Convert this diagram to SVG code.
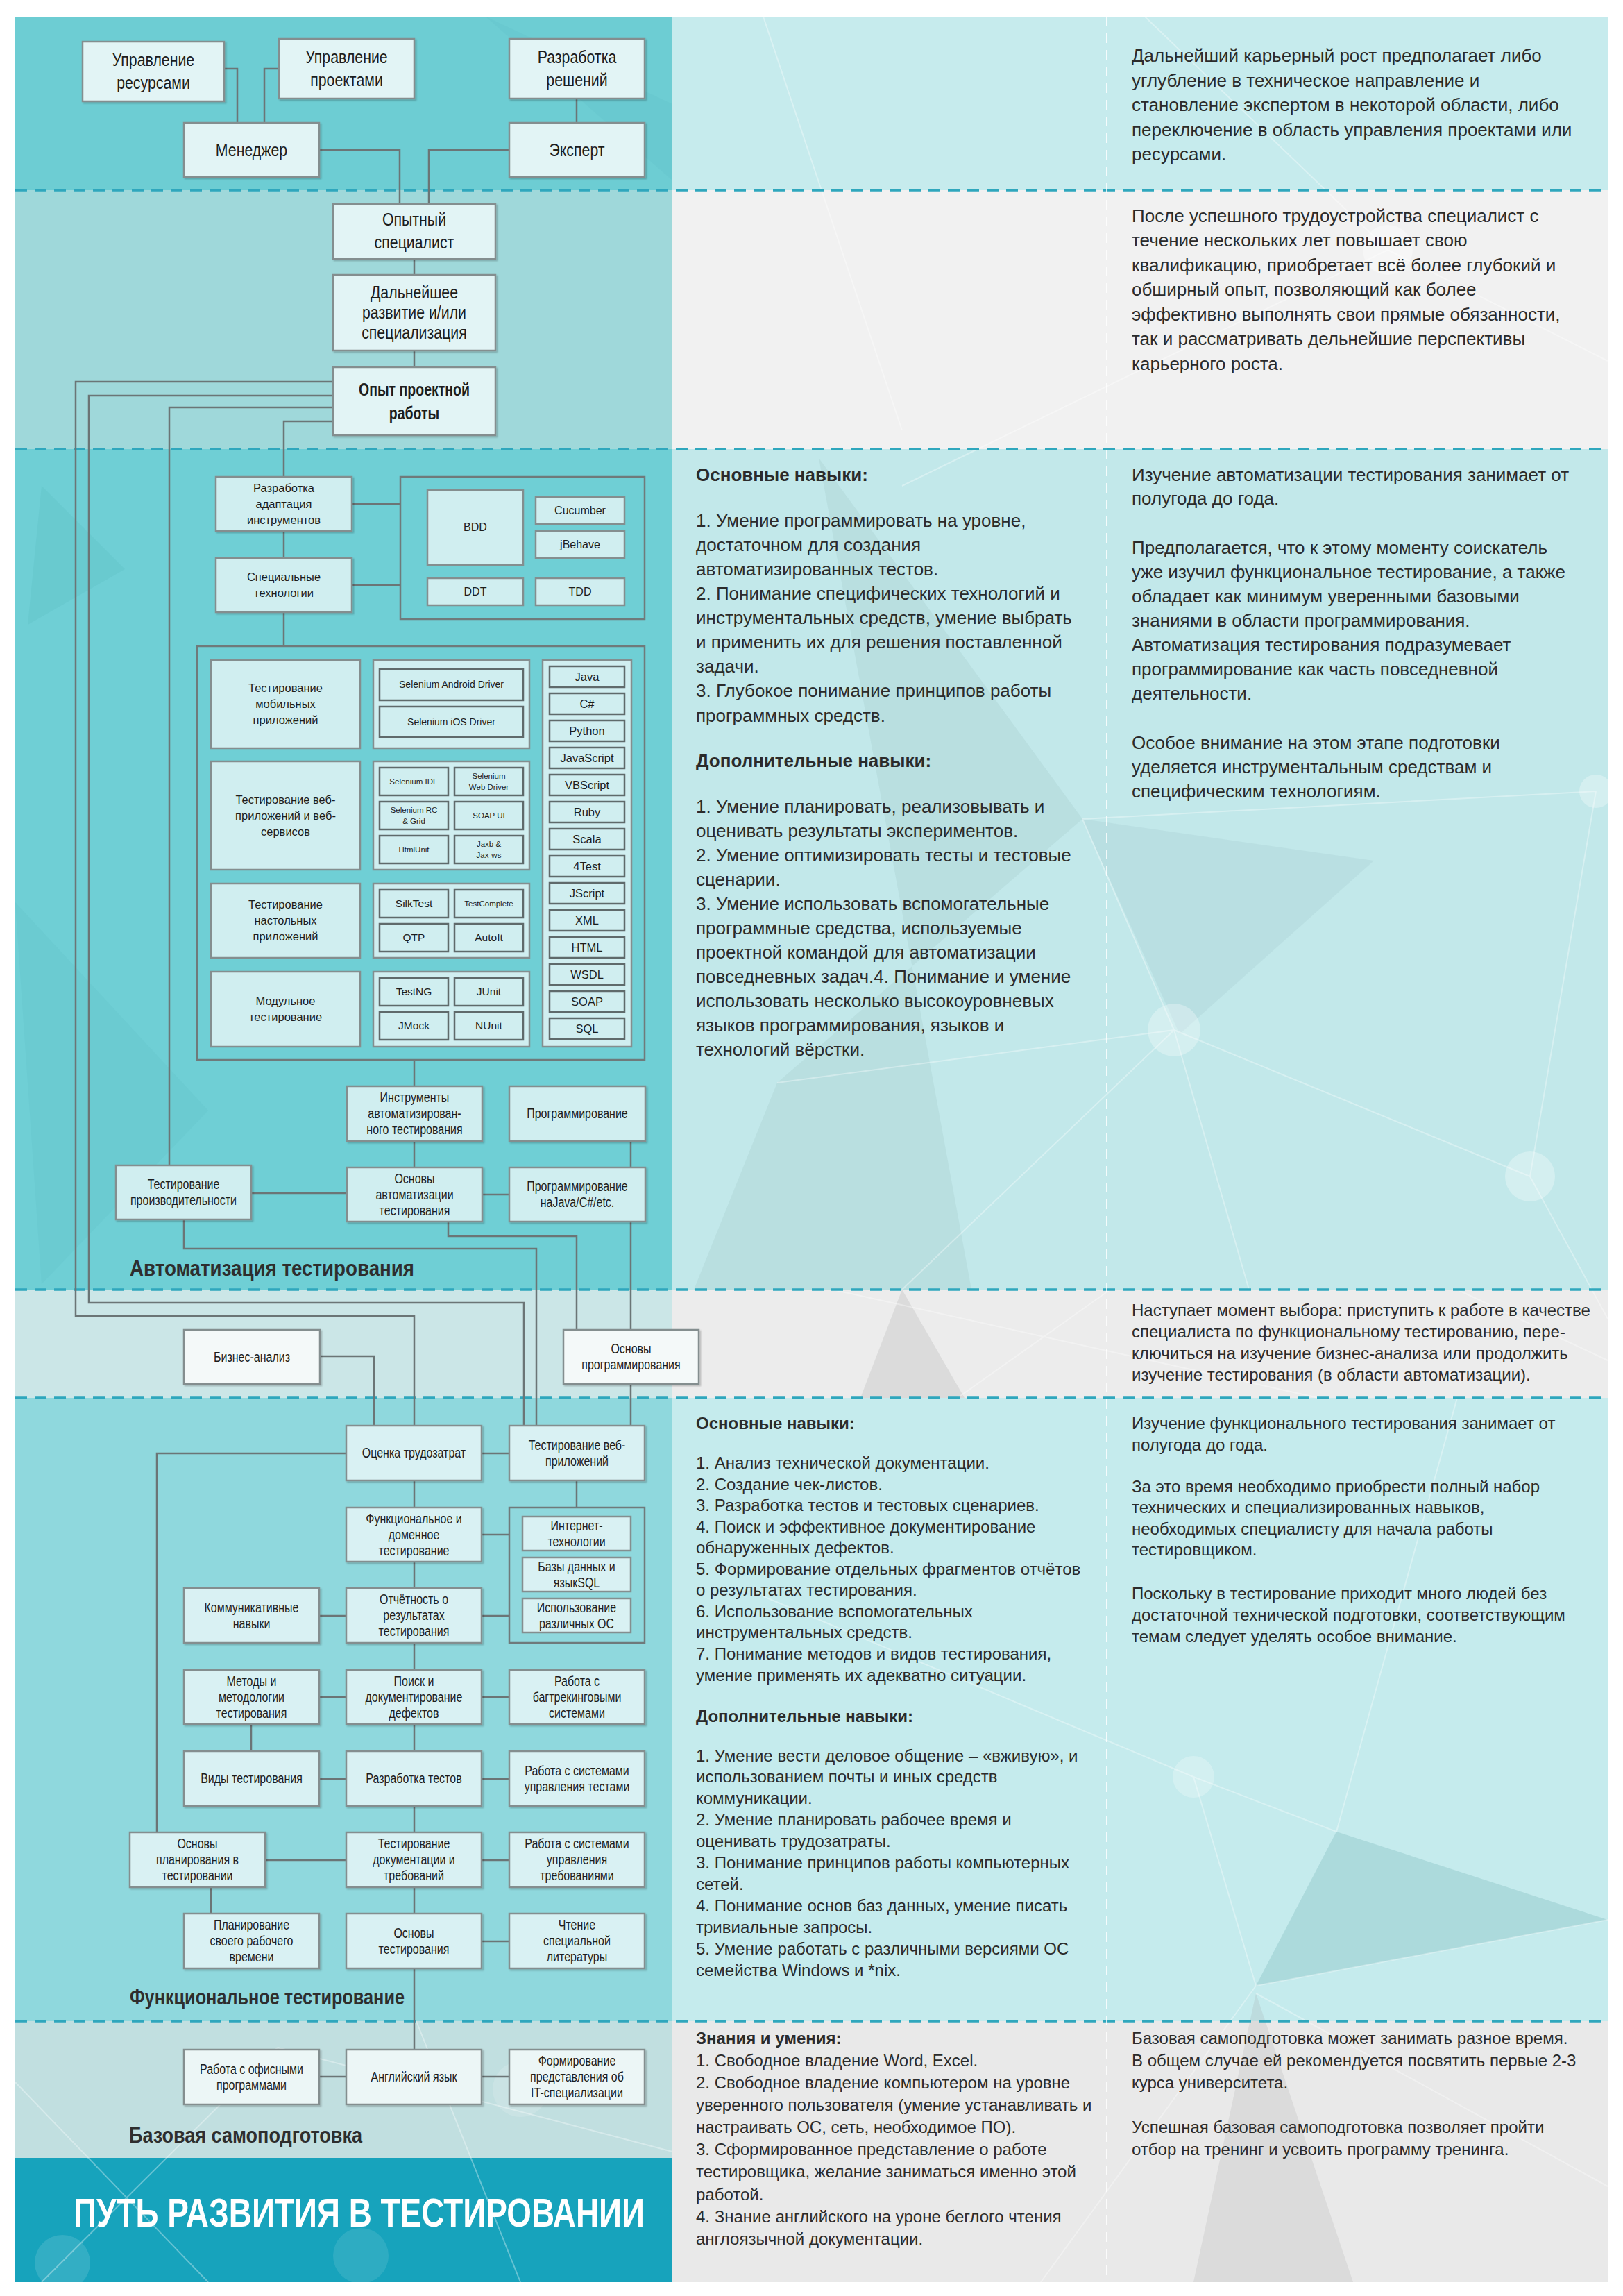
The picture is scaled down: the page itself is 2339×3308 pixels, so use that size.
<svg xmlns="http://www.w3.org/2000/svg" width="2339" height="3308" viewBox="0 0 2339 3308">
<defs>
<style>
.nb{stroke:#848e8f;stroke-width:2.5}
.ib{stroke:#5f6a6b;stroke-width:2.5}
.gb{fill:none;stroke:#6f7a7b;stroke-width:2.5}
.f1{fill:#e2f4f5}
.f2{fill:#d0eef0}
.f3{fill:#f4f9f9}
.f4{fill:#d9f1f3}
.f5{fill:#ecf6f6}
.conn path{fill:none;stroke:#6b7576;stroke-width:2.5}
.dash{stroke:#2fa7bd;stroke-width:3.5;stroke-dasharray:17 11;fill:none}
.vdash{stroke:#ffffff;stroke-width:2;stroke-dasharray:14 10;fill:none;opacity:.8}
.tn{font-family:"Liberation Sans",Arial,sans-serif;text-anchor:middle;fill:#1d1d1d}
.tr{font-family:"Liberation Sans",Arial,sans-serif;text-anchor:middle;fill:#1d1d1d}
.body{font-family:"Liberation Sans",Arial,sans-serif;fill:#2b2b2b}
.b{font-weight:bold}
.head{font-family:"Liberation Sans",Arial,sans-serif;font-weight:bold;fill:#2e2e2e}
.pl{fill:none;stroke:#ffffff;stroke-width:2;opacity:.35}
</style>
<filter id="sh" x="-5%" y="-5%" width="115%" height="115%">
<feDropShadow dx="2" dy="2" stdDeviation="1.2" flood-color="#000" flood-opacity="0.22"/>
</filter>
</defs>
<rect x="0" y="0" width="2339" height="3308" fill="#ffffff"/>
<g id="sections">
<rect x="22" y="24" width="947" height="250" fill="#6dcdd3"/>
<rect x="969" y="24" width="1348" height="250" fill="#c6ebed"/>
<rect x="22" y="274" width="947" height="373" fill="#9fd8da"/>
<rect x="969" y="274" width="1348" height="373" fill="#f1f1f1"/>
<rect x="22" y="647" width="947" height="1211" fill="#6fcfd5"/>
<rect x="969" y="647" width="1348" height="1211" fill="#c2e8ea"/>
<rect x="22" y="1858" width="947" height="156" fill="#cbe6e7"/>
<rect x="969" y="1858" width="1348" height="156" fill="#ececec"/>
<rect x="22" y="2014" width="947" height="898" fill="#8fd8dd"/>
<rect x="969" y="2014" width="1348" height="898" fill="#c5ebed"/>
<rect x="22" y="2912" width="947" height="197" fill="#c1dfe0"/>
<rect x="969" y="2912" width="1348" height="376" fill="#e9e9e9"/>
<rect x="22" y="3109" width="947" height="179" fill="#17a3bc"/>
</g>
<g id="background-pattern">
<polygon points="1180,660 1560,1180 1120,1560 1000,1858 1400,1858" fill="#8fb5b8" opacity="0.18"/>
<polygon points="1560,1180 1980,1240 1700,1490" fill="#8fb5b8" opacity="0.16"/>
<polygon points="1926,2639 2317,2766 1810,2861" fill="#7fb9bc" opacity="0.35"/>
<polygon points="1810,2872 1720,3288 1950,3288" fill="#9a9a9a" opacity="0.18"/>
<polygon points="1300,1858 1390,2014 1240,2014" fill="#9a9a9a" opacity="0.2"/>
<polygon points="60,700 180,820 40,900" fill="#5fbfc6" opacity="0.35"/>
<polygon points="22,1300 300,1600 60,1850" fill="#5fbfc6" opacity="0.25"/>
<polygon points="700,24 969,150 969,260" fill="#5fbfc6" opacity="0.25"/>
<circle cx="1692" cy="1484" r="38" fill="#ffffff" opacity="0.3"/>
<circle cx="2205" cy="1695" r="36" fill="#ffffff" opacity="0.3"/>
<circle cx="2300" cy="1140" r="24" fill="#ffffff" opacity="0.3"/>
<circle cx="1720" cy="2560" r="30" fill="#ffffff" opacity="0.25"/>
<circle cx="750" cy="3010" r="40" fill="#ffffff" opacity="0.15"/>
<circle cx="90" cy="3260" r="40" fill="#ffffff" opacity="0.12"/>
<circle cx="520" cy="3250" r="40" fill="#ffffff" opacity="0.1"/>
<circle cx="2000" cy="360" r="36" fill="#ffffff" opacity="0.35"/>
<path class="pl" d="M1692,1484 L1120,1560 M1692,1484 L2205,1695 M1692,1484 L1560,1180 M1692,1484 L1800,1858 M2205,1695 L2300,1140 M2205,1695 L2317,1900 M1560,1180 L2300,1140 M1300,1858 L1692,1484"/>
<path class="pl" d="M1720,2560 L1926,2639 M1720,2560 L1100,2300 M1720,2560 L1810,2861 M1810,2861 L2317,2766 M1810,2861 L1500,3288 M1810,2872 L2317,3150 M1926,2639 L2100,2014"/>
<path class="pl" d="M2000,360 L1300,700 M2000,360 L2317,520 M2000,360 L1650,24 M1100,24 L1300,620"/>
<path class="pl" d="M1200,1858 L1900,2014 M1600,1858 L1380,2014 M2100,1858 L2317,1960"/>
<path class="pl" d="M60,3288 L400,2950 M400,2950 L969,3100 M22,3000 L300,3288 M600,2912 L750,3288"/>
</g>
<g id="dividers">
<path class="dash" d="M22,274 H2317 M22,647 H2317 M22,1858 H2317 M22,2014 H2317 M22,2912 H2317"/>
<path class="vdash" d="M1595,24 V3288"/>
</g>
<g class="conn" id="connectors">
<path d="M323,99 H342 V177"/>
<path d="M402,99 H381 V177"/>
<path d="M831,142 V177"/>
<path d="M460,216 H576 V294"/>
<path d="M734,216 H618 V294"/>
<path d="M597,373 V396"/>
<path d="M597,505 V529"/>
<path d="M480,550 H109 V1896 H597 V2054"/>
<path d="M480,570 H128 V1877 H755 V2054"/>
<path d="M480,587 H244 V1679"/>
<path d="M480,607 H409 V687"/>
<path d="M507,726 H577"/>
<path d="M507,843 H577"/>
<path d="M409,765 V804"/>
<path d="M409,882 V931"/>
<path d="M597,1527 V1565"/>
<path d="M597,1644 V1682"/>
<path d="M362,1719 H500"/>
<path d="M695,1721 H734"/>
<path d="M909,1644 V1682"/>
<path d="M909,1760 V1916"/>
<path d="M646,1760 V1781 H831 V1916"/>
<path d="M265,1757 V1799 H773 V2054"/>
<path d="M461,1954 H539 V2054"/>
<path d="M909,1994 V2054"/>
<path d="M694,2094 H734"/>
<path d="M499,2094 H226 V2640"/>
<path d="M597,2133 V2172"/>
<path d="M831,2133 V2172"/>
<path d="M694,2211 H734"/>
<path d="M694,2328 H734"/>
<path d="M597,2250 V2288"/>
<path d="M460,2328 H499"/>
<path d="M597,2367 V2406"/>
<path d="M460,2445 H499"/>
<path d="M694,2445 H734"/>
<path d="M362,2484 V2523"/>
<path d="M597,2484 V2523"/>
<path d="M460,2563 H499"/>
<path d="M694,2563 H734"/>
<path d="M597,2602 V2640"/>
<path d="M382,2680 H499"/>
<path d="M694,2680 H734"/>
<path d="M304,2719 V2757"/>
<path d="M597,2719 V2757"/>
<path d="M694,2797 H734"/>
<path d="M597,2836 V2953"/>
<path d="M460,2992 H499"/>
<path d="M694,2992 H734"/>
</g>
<g id="nodes">
<g id="n-upr-res"><rect class="nb f1" filter="url(#sh)" x="119" y="60" width="204" height="86"/><text class="tn" font-size="26" transform="matrix(0.82 0 0 1 39.78 0)"><tspan x="221" y="95">Управление</tspan><tspan x="221" y="128">ресурсами</tspan></text></g>
<g id="n-upr-proj"><rect class="nb f1" filter="url(#sh)" x="402" y="56" width="195" height="86"/><text class="tn" font-size="26" transform="matrix(0.82 0 0 1 89.91 0)"><tspan x="499.5" y="91">Управление</tspan><tspan x="499.5" y="124">проектами</tspan></text></g>
<g id="n-razr-resh"><rect class="nb f1" filter="url(#sh)" x="734" y="56" width="195" height="86"/><text class="tn" font-size="26" transform="matrix(0.82 0 0 1 149.67 0)"><tspan x="831.5" y="91">Разработка</tspan><tspan x="831.5" y="124">решений</tspan></text></g>
<g id="n-manager"><rect class="nb f1" filter="url(#sh)" x="265" y="177" width="195" height="78"/><text class="tn" font-size="26" transform="matrix(0.82 0 0 1 65.25 0)" x="362.5" y="225">Менеджер</text></g>
<g id="n-expert"><rect class="nb f1" filter="url(#sh)" x="734" y="177" width="195" height="78"/><text class="tn" font-size="26" transform="matrix(0.82 0 0 1 149.67 0)" x="831.5" y="225">Эксперт</text></g>
<g id="n-opyt-spec"><rect class="nb f1" filter="url(#sh)" x="480" y="294" width="234" height="79"/><text class="tn" font-size="26" transform="matrix(0.82 0 0 1 107.46 0)"><tspan x="597" y="325">Опытный</tspan><tspan x="597" y="358">специалист</tspan></text></g>
<g id="n-dalneyshee"><rect class="nb f1" filter="url(#sh)" x="480" y="396" width="234" height="109"/><text class="tn" font-size="26" transform="matrix(0.82 0 0 1 107.46 0)"><tspan x="597" y="430">Дальнейшее</tspan><tspan x="597" y="459">развитие и/или</tspan><tspan x="597" y="488">специализация</tspan></text></g>
<g id="n-opyt-proj"><rect class="nb f1" filter="url(#sh)" x="480" y="529" width="234" height="98"/><text class="tn b" font-size="26" transform="matrix(0.75 0 0 1 149.25 0)"><tspan x="597" y="570">Опыт проектной</tspan><tspan x="597" y="604">работы</tspan></text></g>

<g id="n-razr-adapt"><rect class="nb f2" filter="url(#sh)" x="311" y="687" width="196" height="78"/><text class="tr" font-size="16.5"><tspan x="409" y="709">Разработка</tspan><tspan x="409" y="732">адаптация</tspan><tspan x="409" y="755">инструментов</tspan></text></g>
<g id="n-spec-tech"><rect class="nb f2" filter="url(#sh)" x="311" y="804" width="196" height="78"/><text class="tr" font-size="16.5"><tspan x="409" y="837">Специальные</tspan><tspan x="409" y="860">технологии</tspan></text></g>
<g id="g-bdd">
<rect class="gb" x="577" y="687" width="352" height="205"/>
<g id="n-bdd"><rect class="nb f2" x="616" y="706" width="138" height="108"/><text class="tr" font-size="16" x="685" y="765">BDD</text></g>
<g id="n-cucumber"><rect class="nb f2" x="772" y="716" width="128" height="39"/><text class="tr" font-size="16" x="836" y="741">Cucumber</text></g>
<g id="n-jbehave"><rect class="nb f2" x="772" y="765" width="128" height="39"/><text class="tr" font-size="16" x="836" y="790">jBehave</text></g>
<g id="n-ddt"><rect class="nb f2" x="616" y="833" width="138" height="39"/><text class="tr" font-size="16" x="685" y="858">DDT</text></g>
<g id="n-tdd"><rect class="nb f2" x="772" y="833" width="128" height="39"/><text class="tr" font-size="16" x="836" y="858">TDD</text></g>
</g>
<g id="g-tools">
<rect class="gb" x="284" y="931" width="645" height="596"/>
<g id="n-mob"><rect class="nb f2" x="304" y="951" width="215" height="127"/><text class="tr" font-size="16.5"><tspan x="411.5" y="997">Тестирование</tspan><tspan x="411.5" y="1020">мобильных</tspan><tspan x="411.5" y="1043">приложений</tspan></text></g>
<g id="n-web"><rect class="nb f2" x="304" y="1097" width="215" height="156"/><text class="tr" font-size="16.5"><tspan x="411.5" y="1158">Тестирование веб-</tspan><tspan x="411.5" y="1181">приложений и веб-</tspan><tspan x="411.5" y="1204">сервисов</tspan></text></g>
<g id="n-desk"><rect class="nb f2" x="304" y="1273" width="215" height="107"/><text class="tr" font-size="16.5"><tspan x="411.5" y="1309">Тестирование</tspan><tspan x="411.5" y="1332">настольных</tspan><tspan x="411.5" y="1355">приложений</tspan></text></g>
<g id="n-unit"><rect class="nb f2" x="304" y="1400" width="215" height="108"/><text class="tr" font-size="16.5"><tspan x="411.5" y="1448">Модульное</tspan><tspan x="411.5" y="1471">тестирование</tspan></text></g>
<g id="sg-mob"><rect class="nb f2" x="538" y="951" width="225" height="127"/>
<g id="n-sel-android"><rect class="ib f2" x="547" y="964" width="207" height="45"/><text class="tr" font-size="14" x="650.5" y="991">Selenium Android Driver</text></g>
<g id="n-sel-ios"><rect class="ib f2" x="547" y="1018" width="207" height="44"/><text class="tr" font-size="14" x="650.5" y="1045">Selenium iOS Driver</text></g>
</g>
<g id="sg-web"><rect class="nb f2" x="538" y="1097" width="225" height="156"/>
<g id="n-sel-ide"><rect class="ib f2" x="547" y="1106" width="99" height="40"/><text class="tr" font-size="11.5" x="596.5" y="1130">Selenium IDE</text></g>
<g id="n-sel-wd"><rect class="ib f2" x="655" y="1106" width="99" height="40"/><text class="tr" font-size="11.5"><tspan x="704.5" y="1122">Selenium</tspan><tspan x="704.5" y="1138">Web Driver</tspan></text></g>
<g id="n-sel-rc"><rect class="ib f2" x="547" y="1155" width="99" height="40"/><text class="tr" font-size="11.5"><tspan x="596.5" y="1171">Selenium RC</tspan><tspan x="596.5" y="1187">&amp; Grid</tspan></text></g>
<g id="n-soapui"><rect class="ib f2" x="655" y="1155" width="99" height="40"/><text class="tr" font-size="11.5" x="704.5" y="1179">SOAP UI</text></g>
<g id="n-htmlunit"><rect class="ib f2" x="547" y="1204" width="99" height="40"/><text class="tr" font-size="11.5" x="596.5" y="1228">HtmlUnit</text></g>
<g id="n-jaxb"><rect class="ib f2" x="655" y="1204" width="99" height="40"/><text class="tr" font-size="11.5"><tspan x="704.5" y="1220">Jaxb &amp;</tspan><tspan x="704.5" y="1236">Jax-ws</tspan></text></g>
</g>
<g id="sg-desk"><rect class="nb f2" x="538" y="1273" width="225" height="107"/>
<g id="n-silk"><rect class="ib f2" x="547" y="1282" width="99" height="40"/><text class="tr" font-size="15.5" x="596.5" y="1307">SilkTest</text></g>
<g id="n-testcomplete"><rect class="ib f2" x="655" y="1282" width="99" height="40"/><text class="tr" font-size="11.5" x="704.5" y="1306">TestComplete</text></g>
<g id="n-qtp"><rect class="ib f2" x="547" y="1331" width="99" height="40"/><text class="tr" font-size="15.5" x="596.5" y="1356">QTP</text></g>
<g id="n-autoit"><rect class="ib f2" x="655" y="1331" width="99" height="40"/><text class="tr" font-size="15.5" x="704.5" y="1356">AutoIt</text></g>
</g>
<g id="sg-unit"><rect class="nb f2" x="538" y="1400" width="225" height="108"/>
<g id="n-testng"><rect class="ib f2" x="547" y="1409" width="99" height="40"/><text class="tr" font-size="15.5" x="596.5" y="1434">TestNG</text></g>
<g id="n-junit"><rect class="ib f2" x="655" y="1409" width="99" height="40"/><text class="tr" font-size="15.5" x="704.5" y="1434">JUnit</text></g>
<g id="n-jmock"><rect class="ib f2" x="547" y="1458" width="99" height="40"/><text class="tr" font-size="15.5" x="596.5" y="1483">JMock</text></g>
<g id="n-nunit"><rect class="ib f2" x="655" y="1458" width="99" height="40"/><text class="tr" font-size="15.5" x="704.5" y="1483">NUnit</text></g>
</g>
<g id="sg-lang"><rect class="nb f2" x="782" y="951" width="128" height="557"/>
<g id="n-java"><rect class="ib f2" x="792" y="960" width="108" height="30"/><text class="tr" font-size="16.5" x="846" y="981">Java</text></g>
<g id="n-csharp"><rect class="ib f2" x="792" y="999" width="108" height="30"/><text class="tr" font-size="16.5" x="846" y="1020">C#</text></g>
<g id="n-python"><rect class="ib f2" x="792" y="1038" width="108" height="30"/><text class="tr" font-size="16.5" x="846" y="1059">Python</text></g>
<g id="n-js"><rect class="ib f2" x="792" y="1077" width="108" height="30"/><text class="tr" font-size="16.5" x="846" y="1098">JavaScript</text></g>
<g id="n-vbs"><rect class="ib f2" x="792" y="1116" width="108" height="30"/><text class="tr" font-size="16.5" x="846" y="1137">VBScript</text></g>
<g id="n-ruby"><rect class="ib f2" x="792" y="1155" width="108" height="30"/><text class="tr" font-size="16.5" x="846" y="1176">Ruby</text></g>
<g id="n-scala"><rect class="ib f2" x="792" y="1194" width="108" height="30"/><text class="tr" font-size="16.5" x="846" y="1215">Scala</text></g>
<g id="n-4test"><rect class="ib f2" x="792" y="1233" width="108" height="30"/><text class="tr" font-size="16.5" x="846" y="1254">4Test</text></g>
<g id="n-jscript"><rect class="ib f2" x="792" y="1272" width="108" height="30"/><text class="tr" font-size="16.5" x="846" y="1293">JScript</text></g>
<g id="n-xml"><rect class="ib f2" x="792" y="1311" width="108" height="30"/><text class="tr" font-size="16.5" x="846" y="1332">XML</text></g>
<g id="n-html"><rect class="ib f2" x="792" y="1350" width="108" height="30"/><text class="tr" font-size="16.5" x="846" y="1371">HTML</text></g>
<g id="n-wsdl"><rect class="ib f2" x="792" y="1389" width="108" height="30"/><text class="tr" font-size="16.5" x="846" y="1410">WSDL</text></g>
<g id="n-soap"><rect class="ib f2" x="792" y="1428" width="108" height="30"/><text class="tr" font-size="16.5" x="846" y="1449">SOAP</text></g>
<g id="n-sql"><rect class="ib f2" x="792" y="1467" width="108" height="30"/><text class="tr" font-size="16.5" x="846" y="1488">SQL</text></g>
</g>
</g>

<g id="n-instr"><rect class="nb f2" filter="url(#sh)" x="500" y="1565" width="195" height="79"/><text class="tn" font-size="20" transform="matrix(0.8 0 0 1 119.5 0)"><tspan x="597.5" y="1588">Инструменты</tspan><tspan x="597.5" y="1611">автоматизирован-</tspan><tspan x="597.5" y="1634">ного тестирования</tspan></text></g>
<g id="n-prog"><rect class="nb f2" filter="url(#sh)" x="734" y="1565" width="196" height="79"/><text class="tn" font-size="20" transform="matrix(0.8 0 0 1 166.4 0)" x="832" y="1611">Программирование</text></g>
<g id="n-perf"><rect class="nb f2" filter="url(#sh)" x="167" y="1679" width="195" height="78"/><text class="tn" font-size="20" transform="matrix(0.8 0 0 1 52.9 0)"><tspan x="264.5" y="1713">Тестирование</tspan><tspan x="264.5" y="1736">производительности</tspan></text></g>
<g id="n-osn-avt"><rect class="nb f2" filter="url(#sh)" x="500" y="1682" width="195" height="78"/><text class="tn" font-size="20" transform="matrix(0.8 0 0 1 119.5 0)"><tspan x="597.5" y="1705">Основы</tspan><tspan x="597.5" y="1728">автоматизации</tspan><tspan x="597.5" y="1751">тестирования</tspan></text></g>
<g id="n-prog-java"><rect class="nb f2" filter="url(#sh)" x="734" y="1682" width="196" height="78"/><text class="tn" font-size="20" transform="matrix(0.8 0 0 1 166.4 0)"><tspan x="832" y="1716">Программирование</tspan><tspan x="832" y="1739">наJava/C#/etc.</tspan></text></g>

<g id="n-biz"><rect class="nb f3" filter="url(#sh)" x="265" y="1916" width="196" height="78"/><text class="tn" font-size="20" transform="matrix(0.8 0 0 1 72.6 0)" x="363" y="1962">Бизнес-анализ</text></g>
<g id="n-osn-prog"><rect class="nb f3" filter="url(#sh)" x="812" y="1916" width="195" height="78"/><text class="tn" font-size="20" transform="matrix(0.8 0 0 1 181.9 0)"><tspan x="909.5" y="1950">Основы</tspan><tspan x="909.5" y="1973">программирования</tspan></text></g>

<g id="n-ocenka"><rect class="nb f4" filter="url(#sh)" x="499" y="2054" width="195" height="79"/><text class="tn" font-size="20" transform="matrix(0.8 0 0 1 119.3 0)" x="596.5" y="2100">Оценка трудозатрат</text></g>
<g id="n-test-web"><rect class="nb f4" filter="url(#sh)" x="734" y="2054" width="195" height="79"/><text class="tn" font-size="20" transform="matrix(0.8 0 0 1 166.3 0)"><tspan x="831.5" y="2089">Тестирование веб-</tspan><tspan x="831.5" y="2112">приложений</tspan></text></g>
<g id="n-func-dom"><rect class="nb f4" filter="url(#sh)" x="499" y="2172" width="195" height="78"/><text class="tn" font-size="20" transform="matrix(0.8 0 0 1 119.3 0)"><tspan x="596.5" y="2195">Функциональное и</tspan><tspan x="596.5" y="2218">доменное</tspan><tspan x="596.5" y="2241">тестирование</tspan></text></g>
<g id="g-it">
<rect class="gb" x="734" y="2172" width="195" height="195"/>
<g id="n-inet"><rect class="nb f4" x="753" y="2185" width="156" height="49"/><text class="tn" font-size="20" transform="matrix(0.8 0 0 1 166.2 0)"><tspan x="831" y="2205">Интернет-</tspan><tspan x="831" y="2228">технологии</tspan></text></g>
<g id="n-db"><rect class="nb f4" x="753" y="2244" width="156" height="49"/><text class="tn" font-size="20" transform="matrix(0.8 0 0 1 166.2 0)"><tspan x="831" y="2264">Базы данных и</tspan><tspan x="831" y="2287">языкSQL</tspan></text></g>
<g id="n-os"><rect class="nb f4" x="753" y="2303" width="156" height="49"/><text class="tn" font-size="20" transform="matrix(0.8 0 0 1 166.2 0)"><tspan x="831" y="2323">Использование</tspan><tspan x="831" y="2346">различных ОС</tspan></text></g>
</g>
<g id="n-komm"><rect class="nb f4" filter="url(#sh)" x="265" y="2288" width="195" height="79"/><text class="tn" font-size="20" transform="matrix(0.8 0 0 1 72.5 0)"><tspan x="362.5" y="2323">Коммуникативные</tspan><tspan x="362.5" y="2346">навыки</tspan></text></g>
<g id="n-otchet"><rect class="nb f4" filter="url(#sh)" x="499" y="2288" width="195" height="79"/><text class="tn" font-size="20" transform="matrix(0.8 0 0 1 119.3 0)"><tspan x="596.5" y="2311">Отчётность о</tspan><tspan x="596.5" y="2334">результатах</tspan><tspan x="596.5" y="2357">тестирования</tspan></text></g>
<g id="n-metody"><rect class="nb f4" filter="url(#sh)" x="265" y="2406" width="195" height="78"/><text class="tn" font-size="20" transform="matrix(0.8 0 0 1 72.5 0)"><tspan x="362.5" y="2429">Методы и</tspan><tspan x="362.5" y="2452">методологии</tspan><tspan x="362.5" y="2475">тестирования</tspan></text></g>
<g id="n-poisk"><rect class="nb f4" filter="url(#sh)" x="499" y="2406" width="195" height="78"/><text class="tn" font-size="20" transform="matrix(0.8 0 0 1 119.3 0)"><tspan x="596.5" y="2429">Поиск и</tspan><tspan x="596.5" y="2452">документирование</tspan><tspan x="596.5" y="2475">дефектов</tspan></text></g>
<g id="n-bugtr"><rect class="nb f4" filter="url(#sh)" x="734" y="2406" width="195" height="78"/><text class="tn" font-size="20" transform="matrix(0.8 0 0 1 166.3 0)"><tspan x="831.5" y="2429">Работа с</tspan><tspan x="831.5" y="2452">багтрекинговыми</tspan><tspan x="831.5" y="2475">системами</tspan></text></g>
<g id="n-vidy"><rect class="nb f4" filter="url(#sh)" x="265" y="2523" width="195" height="79"/><text class="tn" font-size="20" transform="matrix(0.8 0 0 1 72.5 0)" x="362.5" y="2569">Виды тестирования</text></g>
<g id="n-razr-test"><rect class="nb f4" filter="url(#sh)" x="499" y="2523" width="195" height="79"/><text class="tn" font-size="20" transform="matrix(0.8 0 0 1 119.3 0)" x="596.5" y="2569">Разработка тестов</text></g>
<g id="n-tms"><rect class="nb f4" filter="url(#sh)" x="734" y="2523" width="195" height="79"/><text class="tn" font-size="20" transform="matrix(0.8 0 0 1 166.3 0)"><tspan x="831.5" y="2558">Работа с системами</tspan><tspan x="831.5" y="2581">управления тестами</tspan></text></g>
<g id="n-plan"><rect class="nb f4" filter="url(#sh)" x="187" y="2640" width="195" height="79"/><text class="tn" font-size="20" transform="matrix(0.8 0 0 1 56.9 0)"><tspan x="284.5" y="2663">Основы</tspan><tspan x="284.5" y="2686">планирования в</tspan><tspan x="284.5" y="2709">тестировании</tspan></text></g>
<g id="n-test-doc"><rect class="nb f4" filter="url(#sh)" x="499" y="2640" width="195" height="79"/><text class="tn" font-size="20" transform="matrix(0.8 0 0 1 119.3 0)"><tspan x="596.5" y="2663">Тестирование</tspan><tspan x="596.5" y="2686">документации и</tspan><tspan x="596.5" y="2709">требований</tspan></text></g>
<g id="n-rms"><rect class="nb f4" filter="url(#sh)" x="734" y="2640" width="195" height="79"/><text class="tn" font-size="20" transform="matrix(0.8 0 0 1 166.3 0)"><tspan x="831.5" y="2663">Работа с системами</tspan><tspan x="831.5" y="2686">управления</tspan><tspan x="831.5" y="2709">требованиями</tspan></text></g>
<g id="n-plan-time"><rect class="nb f4" filter="url(#sh)" x="265" y="2757" width="195" height="79"/><text class="tn" font-size="20" transform="matrix(0.8 0 0 1 72.5 0)"><tspan x="362.5" y="2780">Планирование</tspan><tspan x="362.5" y="2803">своего рабочего</tspan><tspan x="362.5" y="2826">времени</tspan></text></g>
<g id="n-osn-test"><rect class="nb f4" filter="url(#sh)" x="499" y="2757" width="195" height="79"/><text class="tn" font-size="20" transform="matrix(0.8 0 0 1 119.3 0)"><tspan x="596.5" y="2792">Основы</tspan><tspan x="596.5" y="2815">тестирования</tspan></text></g>
<g id="n-chtenie"><rect class="nb f4" filter="url(#sh)" x="734" y="2757" width="195" height="79"/><text class="tn" font-size="20" transform="matrix(0.8 0 0 1 166.3 0)"><tspan x="831.5" y="2780">Чтение</tspan><tspan x="831.5" y="2803">специальной</tspan><tspan x="831.5" y="2826">литературы</tspan></text></g>

<g id="n-office"><rect class="nb f5" filter="url(#sh)" x="265" y="2953" width="195" height="79"/><text class="tn" font-size="20" transform="matrix(0.8 0 0 1 72.5 0)"><tspan x="362.5" y="2988">Работа с офисными</tspan><tspan x="362.5" y="3011">программами</tspan></text></g>
<g id="n-english"><rect class="nb f5" filter="url(#sh)" x="499" y="2953" width="195" height="79"/><text class="tn" font-size="20" transform="matrix(0.8 0 0 1 119.3 0)" x="596.5" y="2999">Английский язык</text></g>
<g id="n-it-spec"><rect class="nb f5" filter="url(#sh)" x="734" y="2953" width="195" height="79"/><text class="tn" font-size="20" transform="matrix(0.8 0 0 1 166.3 0)"><tspan x="831.5" y="2976">Формирование</tspan><tspan x="831.5" y="2999">представления об</tspan><tspan x="831.5" y="3022">IT-специализации</tspan></text></g>
</g>

<g id="headings">
<text class="head" font-size="32" x="187" y="1838" textLength="410" lengthAdjust="spacingAndGlyphs">Автоматизация тестирования</text>
<text class="head" font-size="32" x="187" y="2888" textLength="396" lengthAdjust="spacingAndGlyphs">Функциональное тестирование</text>
<text class="head" font-size="32" x="186" y="3087" textLength="336" lengthAdjust="spacingAndGlyphs">Базовая самоподготовка</text>
<text class="head" font-size="58" x="106" y="3208" style="fill:#ffffff" textLength="823" lengthAdjust="spacingAndGlyphs">ПУТЬ РАЗВИТИЯ В ТЕСТИРОВАНИИ</text>
</g>

<g id="texts">
<text class="body" font-size="26">
<tspan x="1631" y="89">Дальнейший карьерный рост предполагает либо</tspan>
<tspan x="1631" y="125">углубление в техническое направление и</tspan>
<tspan x="1631" y="160">становление экспертом в некоторой области, либо</tspan>
<tspan x="1631" y="196">переключение в область управления проектами или</tspan>
<tspan x="1631" y="231">ресурсами.</tspan>
</text>
<text class="body" font-size="26">
<tspan x="1631" y="320">После успешного трудоустройства специалист с</tspan>
<tspan x="1631" y="355">течение нескольких лет повышает свою</tspan>
<tspan x="1631" y="391">квалификацию, приобретает всё более глубокий и</tspan>
<tspan x="1631" y="426">обширный опыт, позволяющий как более</tspan>
<tspan x="1631" y="462">эффективно выполнять свои прямые обязанности,</tspan>
<tspan x="1631" y="497">так и рассматривать дельнейшие перспективы</tspan>
<tspan x="1631" y="533">карьерного роста.</tspan>
</text>
<text class="body" font-size="26">
<tspan class="b" x="1003" y="693">Основные навыки:</tspan>
<tspan x="1003" y="759">1. Умение программировать на уровне,</tspan>
<tspan x="1003" y="794">достаточном для создания</tspan>
<tspan x="1003" y="829">автоматизированных тестов.</tspan>
<tspan x="1003" y="864">2. Понимание специфических технологий и</tspan>
<tspan x="1003" y="899">инструментальных средств, умение выбрать</tspan>
<tspan x="1003" y="934">и применить их для решения поставленной</tspan>
<tspan x="1003" y="969">задачи.</tspan>
<tspan x="1003" y="1004">3. Глубокое понимание принципов работы</tspan>
<tspan x="1003" y="1040">программных средств.</tspan>
<tspan class="b" x="1003" y="1105">Дополнительные навыки:</tspan>
<tspan x="1003" y="1171">1. Умение планировать, реализовывать и</tspan>
<tspan x="1003" y="1206">оценивать результаты экспериментов.</tspan>
<tspan x="1003" y="1241">2. Умение оптимизировать тесты и тестовые</tspan>
<tspan x="1003" y="1276">сценарии.</tspan>
<tspan x="1003" y="1311">3. Умение использовать вспомогательные</tspan>
<tspan x="1003" y="1346">программные средства, используемые</tspan>
<tspan x="1003" y="1381">проектной командой для автоматизации</tspan>
<tspan x="1003" y="1416">повседневных задач.4. Понимание и умение</tspan>
<tspan x="1003" y="1451">использовать несколько высокоуровневых</tspan>
<tspan x="1003" y="1486">языков программирования, языков и</tspan>
<tspan x="1003" y="1521">технологий вёрстки.</tspan>
</text>
<text class="body" font-size="26">
<tspan x="1631" y="693">Изучение автоматизации тестирования занимает от</tspan>
<tspan x="1631" y="727">полугода до года.</tspan>
<tspan x="1631" y="798">Предполагается, что к этому моменту соискатель</tspan>
<tspan x="1631" y="833">уже изучил функциональное тестирование, а также</tspan>
<tspan x="1631" y="868">обладает как минимум уверенными базовыми</tspan>
<tspan x="1631" y="903">знаниями в области программирования.</tspan>
<tspan x="1631" y="938">Автоматизация тестирования подразумевает</tspan>
<tspan x="1631" y="973">программирование как часть повседневной</tspan>
<tspan x="1631" y="1008">деятельности.</tspan>
<tspan x="1631" y="1079">Особое внимание на этом этапе подготовки</tspan>
<tspan x="1631" y="1114">уделяется инструментальным средствам и</tspan>
<tspan x="1631" y="1149">специфическим технологиям.</tspan>
</text>
<text class="body" font-size="24">
<tspan x="1631" y="1896">Наступает момент выбора: приступить к работе в качестве</tspan>
<tspan x="1631" y="1927">специалиста по функциональному тестированию, пере-</tspan>
<tspan x="1631" y="1958">ключиться на изучение бизнес-анализа или продолжить</tspan>
<tspan x="1631" y="1989">изучение тестирования (в области автоматизации).</tspan>
</text>
<text class="body" font-size="24">
<tspan class="b" x="1003" y="2059">Основные навыки:</tspan>
<tspan x="1003" y="2116">1. Анализ технической документации.</tspan>
<tspan x="1003" y="2147">2. Создание чек-листов.</tspan>
<tspan x="1003" y="2177">3. Разработка тестов и тестовых сценариев.</tspan>
<tspan x="1003" y="2208">4. Поиск и эффективное документирование</tspan>
<tspan x="1003" y="2238">обнаруженных дефектов.</tspan>
<tspan x="1003" y="2269">5. Формирование отдельных фрагментов отчётов</tspan>
<tspan x="1003" y="2299">о результатах тестирования.</tspan>
<tspan x="1003" y="2330">6. Использование вспомогательных</tspan>
<tspan x="1003" y="2360">инструментальных средств.</tspan>
<tspan x="1003" y="2391">7. Понимание методов и видов тестирования,</tspan>
<tspan x="1003" y="2422">умение применять их адекватно ситуации.</tspan>
<tspan class="b" x="1003" y="2481">Дополнительные навыки:</tspan>
<tspan x="1003" y="2538">1. Умение вести деловое общение – «вживую», и</tspan>
<tspan x="1003" y="2568">использованием почты и иных средств</tspan>
<tspan x="1003" y="2599">коммуникации.</tspan>
<tspan x="1003" y="2630">2. Умение планировать рабочее время и</tspan>
<tspan x="1003" y="2661">оценивать трудозатраты.</tspan>
<tspan x="1003" y="2692">3. Понимание принципов работы компьютерных</tspan>
<tspan x="1003" y="2723">сетей.</tspan>
<tspan x="1003" y="2754">4. Понимание основ баз данных, умение писать</tspan>
<tspan x="1003" y="2785">тривиальные запросы.</tspan>
<tspan x="1003" y="2816">5. Умение работать с различными версиями ОС</tspan>
<tspan x="1003" y="2847">семейства Windows и *nix.</tspan>
</text>
<text class="body" font-size="24">
<tspan x="1631" y="2059">Изучение функционального тестирования занимает от</tspan>
<tspan x="1631" y="2090">полугода до года.</tspan>
<tspan x="1631" y="2150">За это время необходимо приобрести полный набор</tspan>
<tspan x="1631" y="2180">технических и специализированных навыков,</tspan>
<tspan x="1631" y="2211">необходимых специалисту для начала работы</tspan>
<tspan x="1631" y="2241">тестировщиком.</tspan>
<tspan x="1631" y="2304">Поскольку в тестирование приходит много людей без</tspan>
<tspan x="1631" y="2335">достаточной технической подготовки, соответствующим</tspan>
<tspan x="1631" y="2366">темам следует уделять особое внимание.</tspan>
</text>
<text class="body" font-size="24">
<tspan class="b" x="1003" y="2945">Знания и умения:</tspan>
<tspan x="1003" y="2977">1. Свободное владение Word, Excel.</tspan>
<tspan x="1003" y="3009">2. Свободное владение компьютером на уровне</tspan>
<tspan x="1003" y="3041">уверенного пользователя (умение устанавливать и</tspan>
<tspan x="1003" y="3073">настраивать ОС, сеть, необходимое ПО).</tspan>
<tspan x="1003" y="3105">3. Сформированное представление о работе</tspan>
<tspan x="1003" y="3137">тестировщика, желание заниматься именно этой</tspan>
<tspan x="1003" y="3170">работой.</tspan>
<tspan x="1003" y="3202">4. Знание английского на уроне беглого чтения</tspan>
<tspan x="1003" y="3234">англоязычной документации.</tspan>
</text>
<text class="body" font-size="24">
<tspan x="1631" y="2945">Базовая самоподготовка может занимать разное время.</tspan>
<tspan x="1631" y="2977">В общем случае ей рекомендуется посвятить первые 2-3</tspan>
<tspan x="1631" y="3009">курса университета.</tspan>
<tspan x="1631" y="3073">Успешная базовая самоподготовка позволяет пройти</tspan>
<tspan x="1631" y="3105">отбор на тренинг и усвоить программу тренинга.</tspan>
</text>
</g>
</svg>
